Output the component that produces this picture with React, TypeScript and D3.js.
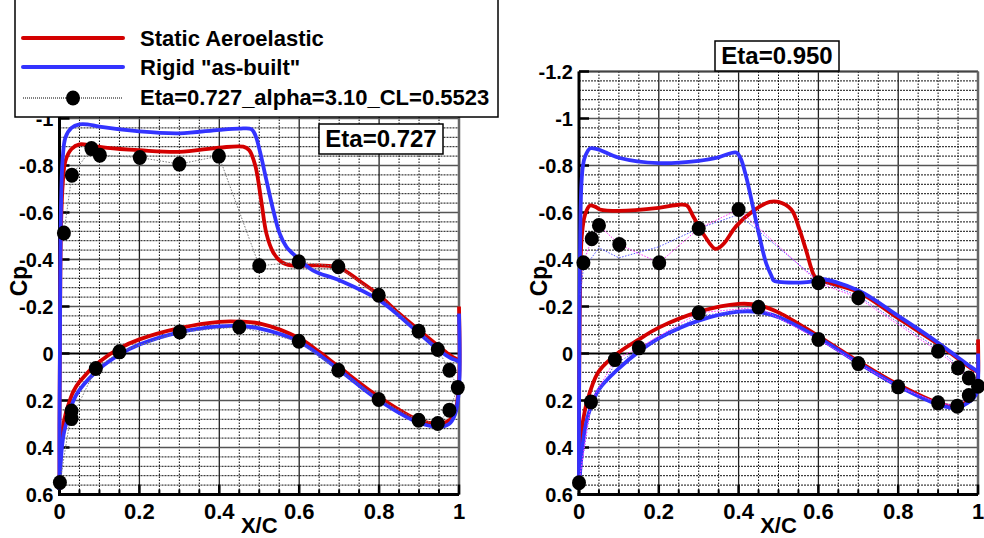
import React from 'react';
import * as d3 from 'd3';

const W = 984;
const H = 538;

// ---------- Eta = 0.727 ----------
const red727Upper: [number, number][] = [
  [1.0, 0.03], [0.995, 0.025], [0.98, 0.01], [0.95, -0.03], [0.9, -0.099], [0.85, -0.17], [0.8, -0.248],
  [0.75, -0.31], [0.7, -0.365], [0.65, -0.375], [0.58, -0.375], [0.555, -0.39], [0.535, -0.43],
  [0.518, -0.51], [0.505, -0.65], [0.49, -0.8], [0.475, -0.865], [0.46, -0.88], [0.4, -0.876],
  [0.3, -0.858], [0.2, -0.865], [0.12, -0.875], [0.08, -0.885], [0.05, -0.89], [0.03, -0.87],
  [0.015, -0.82], [0.008, -0.72], [0.004, -0.55], [0.002, -0.3], [0.001, 0.0], [0.0, 0.3], [0.0, 0.58],
];
const red727Lower: [number, number][] = [
  [0.0, 0.58], [0.002, 0.45], [0.006, 0.35], [0.012, 0.28], [0.02, 0.23], [0.035, 0.16], [0.05, 0.12],
  [0.1, 0.035], [0.15, -0.022], [0.2, -0.06], [0.3, -0.108], [0.4, -0.135], [0.45, -0.136],
  [0.5, -0.128], [0.6, -0.065], [0.65, -0.007], [0.7, 0.058], [0.8, 0.185], [0.9, 0.284],
  [0.95, 0.297], [0.975, 0.285], [0.99, 0.25], [1.0, 0.12], [1.0, -0.2],
];
const blue727Upper: [number, number][] = [
  [1.0, 0.035], [0.995, 0.03], [0.98, 0.02], [0.95, -0.014], [0.9, -0.086], [0.8, -0.227], [0.7, -0.312],
  [0.634, -0.354], [0.593, -0.411], [0.568, -0.454], [0.551, -0.511], [0.535, -0.61], [0.518, -0.737],
  [0.501, -0.865], [0.49, -0.93], [0.48, -0.955], [0.45, -0.957], [0.4, -0.952], [0.3, -0.937],
  [0.2, -0.945], [0.1, -0.965], [0.07, -0.975], [0.05, -0.975], [0.03, -0.96], [0.015, -0.92],
  [0.008, -0.83], [0.004, -0.65], [0.002, -0.35], [0.001, 0.0], [0.0, 0.3], [0.0, 0.58],
];
const blue727Lower: [number, number][] = [
  [0.0, 0.58], [0.002, 0.5], [0.006, 0.4], [0.012, 0.33], [0.02, 0.28], [0.035, 0.2], [0.05, 0.155],
  [0.1, 0.065], [0.15, 0.005], [0.2, -0.038], [0.3, -0.09], [0.4, -0.115], [0.45, -0.117],
  [0.5, -0.107], [0.6, -0.05], [0.7, 0.07], [0.8, 0.2], [0.9, 0.295], [0.95, 0.312], [0.975, 0.3],
  [0.99, 0.26], [1.0, 0.15], [1.0, -0.17],
];
const exp727: [number, number][] = [
  [0.011, -0.513], [0.031, -0.759], [0.08, -0.872], [0.101, -0.844], [0.201, -0.834], [0.3, -0.806],
  [0.399, -0.84], [0.5, -0.373], [0.599, -0.39], [0.698, -0.369], [0.799, -0.248], [0.899, -0.095],
  [0.947, -0.017], [0.976, 0.071], [0.997, 0.145], [0.976, 0.241], [0.947, 0.298], [0.899, 0.284],
  [0.799, 0.196], [0.698, 0.071], [0.599, -0.052], [0.45, -0.113], [0.301, -0.092], [0.15, -0.007],
  [0.091, 0.064], [0.03, 0.277], [0.03, 0.245], [0.001, 0.549],
];

// ---------- Eta = 0.950 ----------
const red950Upper: [number, number][] = [
  [1.0, 0.08], [0.995, 0.075], [0.98, 0.06], [0.95, 0.022], [0.9, -0.04], [0.8, -0.15], [0.7, -0.262],
  [0.6, -0.315], [0.59, -0.329], [0.569, -0.44], [0.5525, -0.528], [0.532, -0.613], [0.5, -0.645],
  [0.478, -0.645], [0.436, -0.606], [0.394, -0.542], [0.361, -0.464], [0.342, -0.445], [0.315, -0.5],
  [0.286, -0.584], [0.27, -0.63], [0.25, -0.633], [0.2, -0.62], [0.1, -0.607], [0.0525, -0.613],
  [0.04, -0.625], [0.0275, -0.63], [0.015, -0.59], [0.007, -0.5], [0.003, -0.3], [0.001, 0.0],
  [0.0, 0.3], [0.0, 0.58],
];
const red950Lower: [number, number][] = [
  [0.0, 0.58], [0.002, 0.45], [0.006, 0.34], [0.015, 0.24], [0.0275, 0.163], [0.05, 0.075],
  [0.1, -0.005], [0.15, -0.06], [0.2, -0.11], [0.3, -0.177], [0.4, -0.211], [0.4525, -0.205],
  [0.5025, -0.173], [0.6, -0.074], [0.7, 0.033], [0.8, 0.132], [0.9, 0.21], [0.946, 0.224],
  [0.98, 0.196], [0.995, 0.16], [1.0, 0.1], [1.0, -0.06],
];
const blue950Upper: [number, number][] = [
  [1.0, 0.08], [0.995, 0.072], [0.98, 0.055], [0.95, 0.017], [0.9, -0.046], [0.8, -0.16],
  [0.7, -0.268], [0.6, -0.318], [0.5775, -0.305], [0.5, -0.305], [0.488, -0.31], [0.4825, -0.33],
  [0.469, -0.384], [0.4525, -0.497], [0.436, -0.624], [0.419, -0.752], [0.405, -0.83], [0.394, -0.855],
  [0.35, -0.835], [0.3, -0.82], [0.2, -0.81], [0.1, -0.833], [0.0525, -0.866], [0.04, -0.872],
  [0.0275, -0.873], [0.015, -0.837], [0.01, -0.8], [0.006, -0.72], [0.003, -0.5], [0.001, -0.1],
  [0.0, 0.3], [0.0, 0.58],
];
const blue950Lower: [number, number][] = [
  [0.0, 0.58], [0.003, 0.5], [0.008, 0.41], [0.015, 0.32], [0.0275, 0.238], [0.05, 0.153],
  [0.1, 0.063], [0.15, -0.008], [0.2, -0.065], [0.3, -0.14], [0.4, -0.178], [0.4525, -0.176],
  [0.5025, -0.153], [0.6, -0.067], [0.7, 0.04], [0.8, 0.139], [0.9, 0.217], [0.946, 0.231],
  [0.98, 0.203], [0.995, 0.175], [1.0, 0.12], [1.0, 0.0],
];
const exp950: [number, number][] = [
  [0.011, -0.386], [0.032, -0.488], [0.05, -0.545], [0.101, -0.464], [0.201, -0.386], [0.3, -0.532],
  [0.4, -0.613], [0.6, -0.301], [0.7, -0.237], [0.9, -0.01], [0.95, 0.061], [0.977, 0.104],
  [1.0, 0.139], [0.977, 0.179], [0.948, 0.224], [0.9, 0.21], [0.8, 0.142], [0.7, 0.043],
  [0.6, -0.06], [0.45, -0.197], [0.3, -0.173], [0.15, -0.024], [0.09, 0.026], [0.03, 0.206],
  [0.0, 0.55],
];
const ref950: [number, number][] = [
  [0.003, -0.25], [0.011, -0.36], [0.05, -0.45], [0.1, -0.407], [0.2, -0.454], [0.3, -0.532],
  [0.4, -0.591], [0.6, -0.31], [0.7, -0.245], [0.9, -0.02], [0.95, 0.05], [0.977, 0.1], [1.0, 0.14],
  [0.977, 0.18], [0.948, 0.22], [0.9, 0.21], [0.8, 0.14], [0.7, 0.045], [0.6, -0.065], [0.45, -0.19],
  [0.3, -0.16], [0.15, -0.015], [0.09, 0.045], [0.03, 0.22], [0.0, 0.55],
];

// ---------- ticks ----------
const xTickValues = [0, 0.2, 0.4, 0.6, 0.8, 1];
const xTickLabels = ['0', '0.2', '0.4', '0.6', '0.8', '1'];
const yTickValues = [-1.2, -1, -0.8, -0.6, -0.4, -0.2, 0, 0.2, 0.4, 0.6];
const yTickLabels = ['-1.2', '-1', '-0.8', '-0.6', '-0.4', '-0.2', '0', '0.2', '0.4', '0.6'];

const legendLabels = ['Static Aeroelastic', 'Rigid "as-built"', 'Eta=0.727_alpha=3.10_CL=0.5523'];

const FONT = '"Liberation Sans", Arial, Helvetica, sans-serif';
const RED = '#d40000';
const BLUE = '#3333ff';

type PlotProps = {
  x0: number;
  x1: number;
  redU: [number, number][];
  redL: [number, number][];
  blueU: [number, number][];
  blueL: [number, number][];
  exp: [number, number][];
  expColor: string;
  extra?: [number, number][];
  label: string;
  box: { x: number; y: number; w: number; h: number };
  cpX: number;
};

const Y_TOP = 71.5;
const Y_BOT = 494.5;

function Plot(p: PlotProps) {
  const xs = d3.scaleLinear().domain([0, 1]).range([p.x0, p.x1]);
  const ys = d3.scaleLinear().domain([-1.2, 0.6]).range([Y_TOP, Y_BOT]);
  const line = d3
    .line<[number, number]>()
    .x((d) => xs(d[0]))
    .y((d) => ys(d[1]))
    .curve(d3.curveCatmullRom.alpha(0.5));
  const poly = d3
    .line<[number, number]>()
    .x((d) => xs(d[0]))
    .y((d) => ys(d[1]));

  const xMinor = d3.range(0, 21).map((i) => i * 0.05).filter((_, i) => i % 4 !== 0);
  const yMinor = d3.range(0, 46).map((i) => -1.2 + i * 0.04).filter((_, i) => i % 5 !== 0);

  return (
    <g>
      {/* minor grid */}
      {xMinor.map((v, i) => (
        <line key={'xm' + i} x1={xs(v)} x2={xs(v)} y1={Y_TOP} y2={Y_BOT} stroke="#000" strokeWidth={1} strokeDasharray="1.5,1.5" />
      ))}
      {yMinor.map((v, i) => (
        <line key={'ym' + i} x1={p.x0} x2={p.x1} y1={ys(v)} y2={ys(v)} stroke="#111" strokeWidth={1} strokeDasharray="2,1" />
      ))}
      {/* major grid */}
      {xTickValues.map((v, i) => (
        <line key={'xM' + i} x1={xs(v)} x2={xs(v)} y1={Y_TOP} y2={Y_BOT} stroke="#222" strokeWidth={1.3} />
      ))}
      {yTickValues.map((v, i) => (
        <line key={'yM' + i} x1={p.x0} x2={p.x1} y1={ys(v)} y2={ys(v)} stroke={v === 0 ? '#000' : '#555'} strokeWidth={v === 0 ? 2 : 1.6} />
      ))}
      {/* frame */}
      <line x1={p.x0} x2={p.x1} y1={Y_TOP} y2={Y_TOP} stroke="#444" strokeWidth={2} />
      <line x1={p.x1} x2={p.x1} y1={Y_TOP} y2={Y_BOT} stroke="#666" strokeWidth={2.5} />
      <line x1={p.x0} x2={p.x0} y1={Y_TOP} y2={Y_BOT + 1.5} stroke="#000" strokeWidth={3} />
      <line x1={p.x0 - 1.5} x2={p.x1} y1={Y_BOT} y2={Y_BOT} stroke="#000" strokeWidth={3} />
      {/* ticks */}
      {yTickValues.map((v, i) => (
        <line key={'yt' + i} x1={p.x0} x2={p.x0 + 10} y1={ys(v)} y2={ys(v)} stroke="#000" strokeWidth={2.5} />
      ))}
      {xTickValues.map((v, i) => (
        <line key={'xt' + i} x1={xs(v)} x2={xs(v)} y1={Y_BOT} y2={Y_BOT - 10} stroke="#000" strokeWidth={2.5} />
      ))}
      {xMinor.map((v, i) => (
        <line key={'xmt' + i} x1={xs(v)} x2={xs(v)} y1={Y_BOT} y2={Y_BOT - 5} stroke="#000" strokeWidth={2} />
      ))}
      {/* tick labels */}
      {yTickValues.map((v, i) => (
        <text key={'yl' + i} x={p.x0 - 6} y={ys(v)} dy="0.35em" textAnchor="end" fontFamily={FONT} fontWeight="bold" fontSize={20}>
          {yTickLabels[i]}
        </text>
      ))}
      {xTickValues.map((v, i) => (
        <text key={'xl' + i} x={xs(v)} y={519} textAnchor="middle" fontFamily={FONT} fontWeight="bold" fontSize={22}>
          {xTickLabels[i]}
        </text>
      ))}
      <text x={xs(0.5)} y={533} textAnchor="middle" fontFamily={FONT} fontWeight="bold" fontSize={22}>
        X/C
      </text>
      <text transform={`translate(${p.cpX},281) rotate(-90)`} textAnchor="middle" fontFamily={FONT} fontWeight="bold" fontSize={23}>
        Cp
      </text>
      {/* curves */}
      <path d={line(p.redU) || ''} fill="none" stroke={RED} strokeWidth={3.8} strokeLinejoin="round" />
      <path d={line(p.redL) || ''} fill="none" stroke={RED} strokeWidth={3.8} strokeLinejoin="round" />
      <path d={line(p.blueU) || ''} fill="none" stroke={BLUE} strokeWidth={3.8} strokeLinejoin="round" />
      <path d={line(p.blueL) || ''} fill="none" stroke={BLUE} strokeWidth={3.8} strokeLinejoin="round" />
      {p.extra && (
        <path d={poly(p.extra) || ''} fill="none" stroke="#5555ff" strokeWidth={1} strokeDasharray="1.5,1.5" />
      )}
      <path d={poly(p.exp) || ''} fill="none" stroke={p.expColor} strokeWidth={1} strokeDasharray="1.5,1.5" />
      {p.exp.map((d, i) => (
        <ellipse key={'e' + i} cx={xs(d[0])} cy={ys(d[1])} rx={7} ry={7.5} fill="#000" />
      ))}
      {/* Eta label */}
      <rect x={p.box.x} y={p.box.y} width={p.box.w} height={p.box.h} fill="#fff" stroke="#000" strokeWidth={1.5} />
      <text x={p.box.x + p.box.w / 2} y={p.box.y + 22.5} textAnchor="middle" fontFamily={FONT} fontWeight="bold" fontSize={24}>
        {p.label}
      </text>
    </g>
  );
}

export default function App() {
  return (
    <svg width={W} height={H} style={{ position: 'absolute', left: 0, top: 0, background: '#fff' }}>
      <rect x={0} y={0} width={W} height={H} fill="#fff" />
      <Plot
        x0={59.5}
        x1={459}
        redU={red727Upper}
        redL={red727Lower}
        blueU={blue727Upper}
        blueL={blue727Lower}
        exp={exp727}
        expColor="#777"
        label="Eta=0.727"
        box={{ x: 319, y: 124, w: 124, h: 30 }}
        cpX={27}
      />
      <Plot
        x0={579}
        x1={978}
        redU={red950Upper}
        redL={red950Lower}
        blueU={blue950Upper}
        blueL={blue950Lower}
        exp={exp950}
        expColor="#ff33ff"
        extra={ref950}
        label="Eta=0.950"
        box={{ x: 715, y: 41, w: 124, h: 30 }}
        cpX={547}
      />
      {/* legend */}
      <rect x={15} y={-2} width={483} height={119} fill="#fff" stroke="#000" strokeWidth={1.5} />
      <line x1={23} x2={123} y1={38} y2={38} stroke={RED} strokeWidth={4} strokeLinecap="round" />
      <line x1={23} x2={123} y1={67} y2={67} stroke={BLUE} strokeWidth={4} strokeLinecap="round" />
      <line x1={23} x2={123} y1={98} y2={98} stroke="#000" strokeWidth={1} strokeDasharray="1,1" />
      <ellipse cx={73} cy={98} rx={7} ry={7.5} fill="#000" />
      {legendLabels.map((t, i) => (
        <text key={t} x={140} y={[46, 75, 105][i]} fontFamily={FONT} fontWeight="bold" fontSize={22}>
          {t}
        </text>
      ))}
    </svg>
  );
}
